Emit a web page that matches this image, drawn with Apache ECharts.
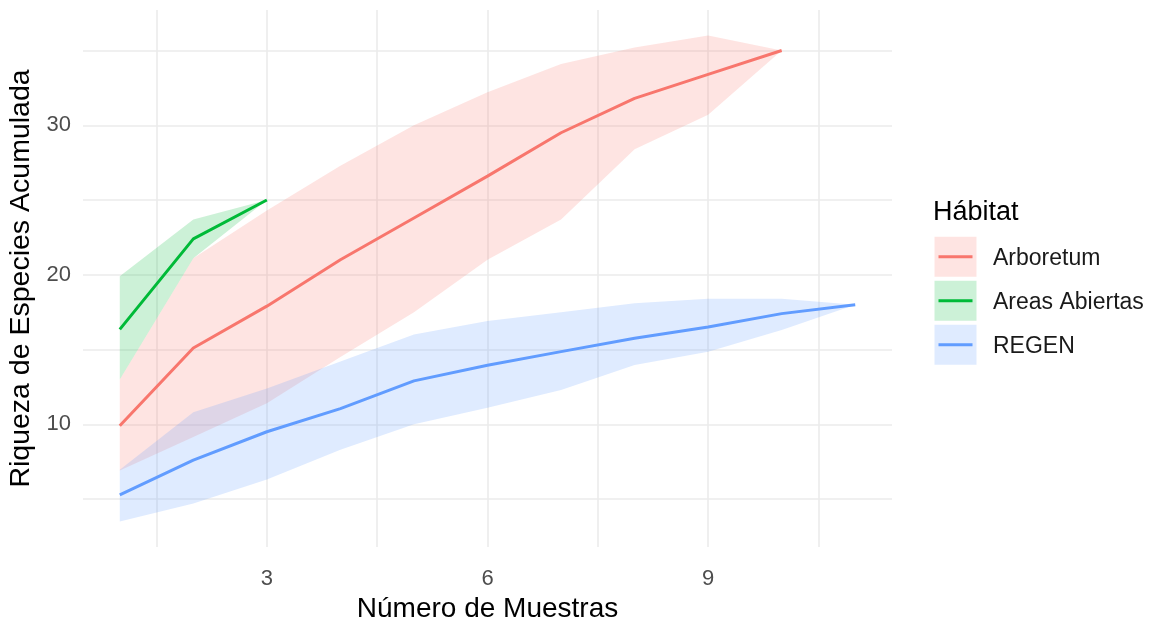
<!DOCTYPE html>
<html><head><meta charset="utf-8">
<script src="https://cdn.jsdelivr.net/npm/echarts@6/dist/echarts.min.js"></script>
<style>html,body{margin:0;padding:0;background:#fff}#c{width:1149px;height:620px}</style>
</head><body><div id="c"></div>
<script>
// ---- data ----
const muestras = [1, 2, 3, 4, 5, 6, 7, 8, 9, 10, 11];
const habitats = ['Arboretum', 'Areas Abiertas', 'REGEN'];
const arbMean  = [9.9, 15.1, 17.9, 21.0, 23.8, 26.6, 29.5, 31.8, 33.4, 35.0];
const arbUpper = [13.0, 21.1, 24.3, 27.3, 30.0, 32.2, 34.1, 35.2, 36.0, 35.0];
const arbLower = [6.9, 9.15, 11.4, 14.5, 17.5, 21.0, 23.7, 28.4, 30.7, 35.0];
const abiMean  = [16.35, 22.4, 25.0];
const abiUpper = [19.9, 23.7, 25.0];
const abiLower = [13.0, 21.1, 25.0];
const regMean  = [5.27, 7.6, 9.5, 11.05, 12.9, 13.95, 14.86, 15.75, 16.5, 17.4, 18.0];
const regUpper = [6.95, 10.8, 12.4, 14.2, 16.0, 16.9, 17.5, 18.1, 18.4, 18.4, 18.0];
const regLower = [3.49, 4.7, 6.3, 8.3, 10.0, 11.1, 12.3, 13.97, 14.85, 16.3, 18.0];
const xGridValues = [1.5, 3, 4.5, 6, 7.5, 9, 10.5];
const xTickLabels = [3, 6, 9];
const yGridValues = [5, 10, 15, 20, 25, 30, 35];
const yTickLabels = [10, 20, 30];

// ---- styles ----
const lineColors = ['#F8766D', '#00BA38', '#619CFF'];
const fillColors = ['rgba(248,118,109,0.2)', 'rgba(0,186,56,0.2)', 'rgba(97,156,255,0.2)'];
const FONT = '"Liberation Sans", Arial, sans-serif';
const LW = 3;

function ribbon(name, lower, upper, fill) {
  const data = lower.map((l, i) => [muestras[i], l, upper[i]]);
  return {
    type: 'custom', name: name + ' IC', data, z: 1, silent: true,
    encode: { x: 0, y: [1, 2] },
    renderItem(params, api) {
      if (params.dataIndex !== 0) return null;
      const top = data.map(d => api.coord([d[0], d[2]]));
      const bot = data.map(d => api.coord([d[0], d[1]])).reverse();
      return { type: 'polygon', shape: { points: top.concat(bot) }, style: { fill: fill, stroke: null } };
    }
  };
}
function line(name, vals, color) {
  return {
    type: 'line', name, z: 3, silent: true, showSymbol: false, symbol: 'none',
    data: vals.map((v, i) => [muestras[i], v]),
    lineStyle: { color, width: LW }, itemStyle: { color }
  };
}

// legend drawn as graphic
const legendGraphic = [{
  type: 'text', left: 933, top: 199, silent: true,
  style: { text: 'Hábitat', font: '27px ' + FONT, fill: '#000' }
}];
habitats.forEach((h, i) => {
  const top = 236.7 + i * 44;
  legendGraphic.push({ type: 'rect', silent: true, shape: { x: 934.5, y: top, width: 42, height: 40 }, style: { fill: fillColors[i] } });
  legendGraphic.push({ type: 'line', silent: true, shape: { x1: 938.5, y1: top + 20, x2: 972.5, y2: top + 20 }, style: { stroke: lineColors[i], lineWidth: LW } });
  legendGraphic.push({ type: 'text', silent: true, x: 993, y: top + 22, style: { text: h, font: '23px ' + FONT, fill: '#1a1a1a', textVerticalAlign: 'middle', verticalAlign: 'middle' } });
});

const chart = echarts.init(document.getElementById('c'), null, { renderer: 'canvas' });
chart.setOption({
  backgroundColor: '#ffffff',
  animation: false,
  textStyle: { fontFamily: FONT },
  grid: { left: 83, right: 257, top: 10, bottom: 73, containLabel: false, outerBoundsMode: 'none' },
  xAxis: {
    type: 'value', min: 0.5, max: 11.5,
    name: 'Número de Muestras', nameLocation: 'middle', nameGap: 44,
    nameTextStyle: { fontSize: 28, color: '#000', fontFamily: FONT },
    axisLine: { show: false },
    axisTick: { show: false, customValues: xGridValues },
    axisLabel: { customValues: xTickLabels, margin: 21, fontSize: 22, color: '#4D4D4D', fontFamily: FONT },
    splitLine: { show: true, lineStyle: { color: '#EBEBEB', width: 1.6 } }
  },
  yAxis: {
    type: 'value', min: 1.79, max: 37.71,
    name: 'Riqueza de Especies Acumulada', nameLocation: 'middle', nameGap: 33, nameRotate: 90,
    nameTextStyle: { fontSize: 28.5, color: '#000', fontFamily: FONT },
    axisLine: { show: false },
    axisTick: { show: false, customValues: yGridValues },
    axisLabel: { customValues: yTickLabels, margin: 12, fontSize: 22, color: '#4D4D4D', fontFamily: FONT },
    splitLine: { show: true, lineStyle: { color: '#EBEBEB', width: 1.6 } }
  },
  series: [
    ribbon(habitats[0], arbLower, arbUpper, fillColors[0]),
    ribbon(habitats[1], abiLower, abiUpper, fillColors[1]),
    ribbon(habitats[2], regLower, regUpper, fillColors[2]),
    line(habitats[0], arbMean, lineColors[0]),
    line(habitats[1], abiMean, lineColors[1]),
    line(habitats[2], regMean, lineColors[2])
  ],
  graphic: legendGraphic
});
</script></body></html>
